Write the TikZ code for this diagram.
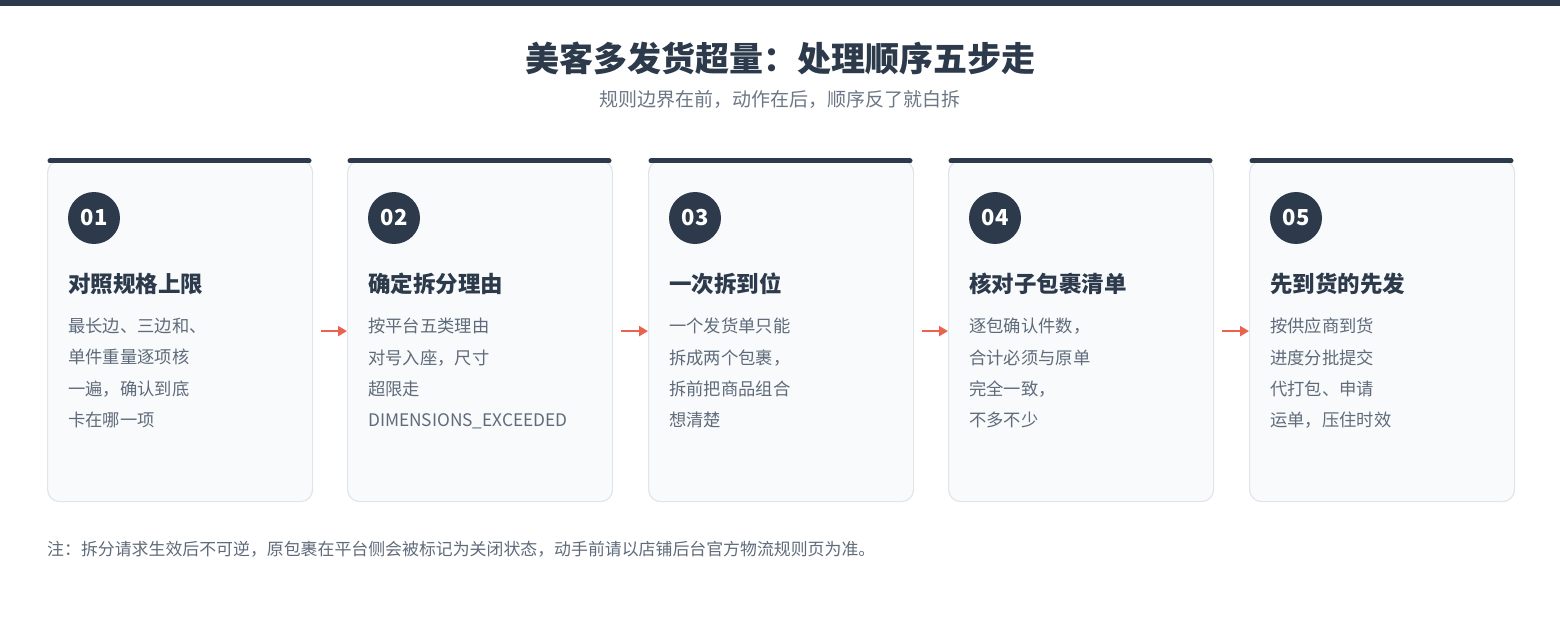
\documentclass[tikz,border=0pt]{standalone}
\usepackage{fontspec}
\setmainfont{Noto Sans CJK SC}
\usetikzlibrary{arrows.meta}
\definecolor{ink}{HTML}{2C3A4B}
\definecolor{subgray}{HTML}{6B7785}
\definecolor{bodygray}{HTML}{5F6B7A}
\definecolor{cardfill}{HTML}{F8FAFC}
\definecolor{cardline}{HTML}{E1E5EA}
\definecolor{flowred}{HTML}{E9634E}

\begin{document}
\begin{tikzpicture}[x=1pt,y=-1pt,
  card/.style={draw=cardline, line width=1.2pt, fill=cardfill, rounded corners=12pt,
    minimum width=265pt, minimum height=341pt, inner sep=0pt, anchor=north west},
  cardcap/.style={line width=5pt, line cap=round, draw=ink},
  badge/.style={circle, fill=ink, minimum size=52pt, inner sep=0pt, text=white,
    font=\fontsize{22}{26}\selectfont\bfseries},
  head/.style={anchor=west, inner sep=0pt, text=ink, font=\fontsize{22.5}{26}\selectfont\bfseries},
  body/.style={anchor=north west, inner sep=0pt, align=left, text=bodygray,
    font=\fontsize{17.3}{31.3}\selectfont},
  flow/.style={draw=flowred, line width=2pt, -{Triangle[length=9pt,width=10pt]}}]
\useasboundingbox (0,0) rectangle (1560,620);
\fill [ink] (0,0) rectangle (1560,6) ;
\node (title) [text=ink, font=\fontsize{34}{40}\selectfont\bfseries] at (780,58) {美客多发货超量：处理顺序五步走} ;
\node (subtitle) [text=subgray, font=\fontsize{19}{22}\selectfont] at (780,99) {规则边界在前，动作在后，顺序反了就白拆} ;
% step 1
\node (c1) [card] at (47,160) {} ;
\draw [cardcap] (50,161) -- (309,161) ;
\node (b1) [badge] at (94,218) {01} ;
\node (h1) [head] at (68,284) {对照规格上限} ;
\node (t1) [body] at (68,318) {最长边、三边和、\\单件重量逐项核\\一遍，确认到底\\卡在哪一项} ;
% step 2
\node (c2) [card] at (347,160) {} ;
\draw [cardcap] (350,161) -- (609,161) ;
\node (b2) [badge] at (394,218) {02} ;
\node (h2) [head] at (368,284) {确定拆分理由} ;
\node (t2) [body] at (368,318) {按平台五类理由\\对号入座，尺寸\\超限走\\DIMENSIONS\_EXCEEDED} ;
% step 3
\node (c3) [card] at (648,160) {} ;
\draw [cardcap] (651,161) -- (910,161) ;
\node (b3) [badge] at (695,218) {03} ;
\node (h3) [head] at (669,284) {一次拆到位} ;
\node (t3) [body] at (669,318) {一个发货单只能\\拆成两个包裹，\\拆前把商品组合\\想清楚} ;
% step 4
\node (c4) [card] at (948,160) {} ;
\draw [cardcap] (951,161) -- (1210,161) ;
\node (b4) [badge] at (995,218) {04} ;
\node (h4) [head] at (969,284) {核对子包裹清单} ;
\node (t4) [body] at (969,318) {逐包确认件数，\\合计必须与原单\\完全一致，\\不多不少} ;
% step 5
\node (c5) [card] at (1249,160) {} ;
\draw [cardcap] (1252,161) -- (1511,161) ;
\node (b5) [badge] at (1296,218) {05} ;
\node (h5) [head] at (1270,284) {先到货的先发} ;
\node (t5) [body] at (1270,318) {按供应商到货\\进度分批提交\\代打包、申请\\运单，压住时效} ;
% arrows
\draw [flow] ([xshift=8pt]c1.east) -- (c2.west) ;
\draw [flow] ([xshift=8pt]c2.east) -- (c3.west) ;
\draw [flow] ([xshift=8pt]c3.east) -- (c4.west) ;
\draw [flow] ([xshift=8pt]c4.east) -- (c5.west) ;
\node (note) [anchor=west, inner sep=0pt, text=bodygray, font=\fontsize{16.9}{19}\selectfont] at (47,549) {注：拆分请求生效后不可逆，原包裹在平台侧会被标记为关闭状态，动手前请以店铺后台官方物流规则页为准。} ;
\end{tikzpicture}
\end{document}
